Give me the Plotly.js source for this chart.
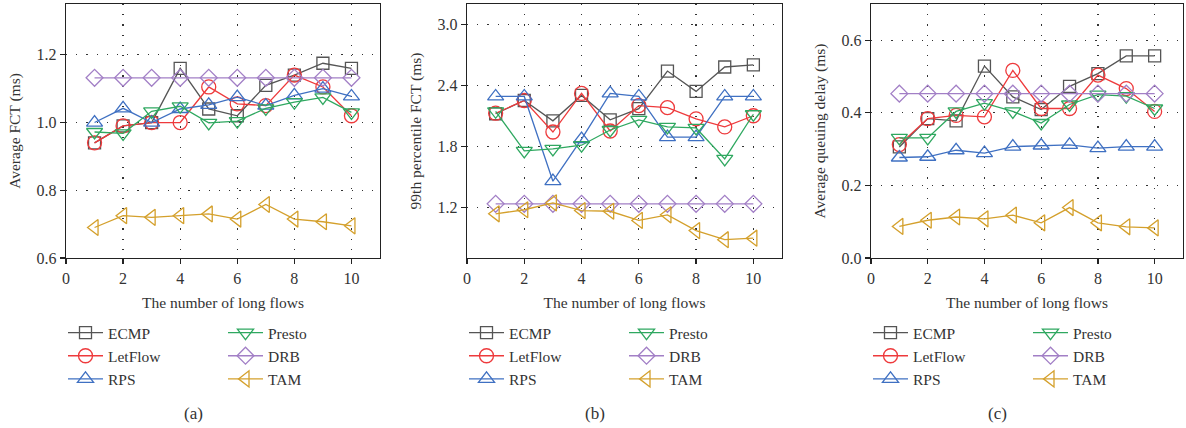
<!DOCTYPE html>
<html>
<head>
<meta charset="utf-8">
<script src="https://cdn.plot.ly/plotly-3.0.1.min.js"></script>
<style>html,body{margin:0;padding:0;background:#fff;}#chart{width:1186px;height:428px;}</style>
</head>
<body>
<div id="chart"></div>
<script>
// ---- data ----
const flows = [1, 2, 3, 4, 5, 6, 7, 8, 9, 10];
const seriesNames = ["ECMP", "LetFlow", "RPS", "Presto", "DRB", "TAM"];

// (a) Average FCT (ms)
const fctECMP    = [0.94, 0.99, 1.00, 1.16, 1.04, 1.02, 1.11, 1.14, 1.175, 1.16];
const fctLetFlow = [0.94, 0.99, 1.00, 1.00, 1.105, 1.055, 1.05, 1.14, 1.105, 1.02];
const fctRPS     = [1.00, 1.042, 1.00, 1.04, 1.052, 1.075, 1.05, 1.08, 1.10, 1.077];
const fctPresto  = [0.972, 0.968, 1.033, 1.048, 0.999, 1.004, 1.042, 1.06, 1.074, 1.03];
const fctDRB     = [1.132, 1.132, 1.132, 1.132, 1.132, 1.132, 1.132, 1.132, 1.132, 1.132];
const fctTAM     = [0.69, 0.725, 0.72, 0.725, 0.73, 0.715, 0.758, 0.715, 0.707, 0.695];

// (b) 99th percentile FCT (ms)
const p99ECMP    = [2.12, 2.25, 2.05, 2.30, 2.06, 2.17, 2.54, 2.34, 2.58, 2.60];
const p99LetFlow = [2.125, 2.25, 1.94, 2.32, 1.95, 2.20, 2.18, 2.07, 1.99, 2.10];
const p99RPS     = [2.29, 2.29, 1.456, 1.87, 2.32, 2.29, 1.89, 1.89, 2.29, 2.29];
const p99Presto  = [2.144, 1.754, 1.774, 1.81, 1.96, 2.06, 1.99, 1.98, 1.675, 2.115];
const p99DRB     = [1.233, 1.233, 1.233, 1.233, 1.233, 1.233, 1.233, 1.233, 1.233, 1.233];
const p99TAM     = [1.135, 1.175, 1.243, 1.167, 1.16, 1.07, 1.125, 0.97, 0.88, 0.895];

// (c) Average queuing delay (ms)
const qdECMP    = [0.306, 0.384, 0.378, 0.529, 0.444, 0.409, 0.473, 0.508, 0.557, 0.557];
const qdLetFlow = [0.3125, 0.384, 0.393, 0.389, 0.517, 0.412, 0.412, 0.504, 0.467, 0.404];
const qdRPS     = [0.277, 0.279, 0.297, 0.289, 0.307, 0.31, 0.312, 0.303, 0.307, 0.307];
const qdPresto  = [0.331, 0.331, 0.404, 0.427, 0.404, 0.372, 0.423, 0.45, 0.446, 0.412];
const qdDRB     = [0.453, 0.453, 0.453, 0.453, 0.453, 0.453, 0.453, 0.453, 0.453, 0.453];
const qdTAM     = [0.087, 0.104, 0.113, 0.108, 0.118, 0.097, 0.139, 0.097, 0.086, 0.083];

const panelLabels = ["(a)", "(b)", "(c)"];
const yTitles = ["Average FCT (ms)", "99th percentile FCT (ms)", "Average queuing delay (ms)"];
const xTitle = "The number of long flows";

// ---- styles ----
const colors = {ECMP: "#555555", LetFlow: "#ee3a3c", RPS: "#3f70c2", Presto: "#2fa860", DRB: "#a27fc6", TAM: "#d4a02c"};
const symbols = {ECMP: "square-open", LetFlow: "circle-open", RPS: "triangle-up-open", Presto: "triangle-down-open", DRB: "diamond-open", TAM: "triangle-left-open"};
const sizes = {ECMP: 12, LetFlow: 14, RPS: 14, Presto: 14, DRB: 13, TAM: 14};

const W = 1186, H = 428, TOP = 4, BOT = 258;
const px = v => v / W;
const py = v => (BOT - v) / (BOT - TOP);
const FONT = "Liberation Serif, Times New Roman, serif";

const panels = [
  {data: [fctECMP, fctLetFlow, fctRPS, fctPresto, fctDRB, fctTAM], left: 66, right: 380,
   yrange: [0.6, 1.35], tick0: 0.6, dtick: 0.2, fmt: ".1f"},
  {data: [p99ECMP, p99LetFlow, p99RPS, p99Presto, p99DRB, p99TAM], left: 467, right: 782,
   yrange: [0.7, 3.2], tick0: 1.2, dtick: 0.6, fmt: ".1f"},
  {data: [qdECMP, qdLetFlow, qdRPS, qdPresto, qdDRB, qdTAM], left: 871, right: 1183,
   yrange: [0, 0.7], tick0: 0, dtick: 0.2, fmt: ".1f"}
];

const traces = [];
const layout = {
  width: W, height: H,
  margin: {l: 0, r: 0, t: TOP, b: H - BOT},
  paper_bgcolor: "#fff", plot_bgcolor: "#fff",
  font: {family: FONT, size: 15.5, color: "#333"},
  showlegend: true,
  annotations: []
};

panels.forEach((p, i) => {
  const ax = i === 0 ? "" : String(i + 1);
  const xa = "x" + ax, ya = "y" + ax;
  const l1 = "legend" + (i === 0 ? "" : String(i * 2 + 1));
  const l2 = "legend" + String(i * 2 + 2);
  seriesNames.forEach((name, k) => {
    traces.push({
      x: flows, y: p.data[k], name: name, type: "scatter", mode: "lines+markers",
      xaxis: xa, yaxis: ya, legend: k < 3 ? l1 : l2,
      line: {color: colors[name], width: 1.3},
      marker: {symbol: symbols[name], size: sizes[name], color: colors[name], line: {width: 1.3, color: colors[name]}},
      cliponaxis: false
    });
  });
  const common = {
    showline: true, linecolor: "#222", linewidth: 1.3, mirror: true,
    ticks: "outside", ticklen: 5, tickcolor: "#222", tickwidth: 1.2,
    showgrid: true, gridcolor: "#333", gridwidth: 1.2, griddash: "1.2px,9px",
    zeroline: false, tickfont: {family: FONT, size: 16, color: "#333"}
  };
  layout["xaxis" + ax] = Object.assign({}, common, {
    domain: [px(p.left), px(p.right)], anchor: ya, range: [0, 11],
    tickmode: "linear", tick0: 0, dtick: 2,
    title: {text: xTitle, font: {family: FONT, size: 15.5, color: "#333"}, standoff: 11}
  });
  layout["yaxis" + ax] = Object.assign({}, common, {
    domain: [0, 1], anchor: xa, range: p.yrange,
    tickmode: "linear", tick0: p.tick0, dtick: p.dtick, tickformat: p.fmt,
    title: {text: yTitles[i], font: {family: FONT, size: 15.5, color: "#333"}, standoff: 12}
  });
  const legStyle = {
    orientation: "v", xanchor: "left", yanchor: "top", yref: "paper", xref: "paper",
    font: {family: FONT, size: 15.5, color: "#333"}, bgcolor: "rgba(0,0,0,0)",
    itemwidth: 35, tracegroupgap: 0, itemclick: false, itemdoubleclick: false
  };
  layout[l1] = Object.assign({}, legStyle, {x: px(p.left - 3), y: py(316)});
  layout[l2] = Object.assign({}, legStyle, {x: px(p.left + 157), y: py(316)});
  layout.annotations.push({
    text: panelLabels[i], xref: "paper", yref: "paper",
    x: px((p.left + p.right) / 2 - 30), y: py(413), xanchor: "center", yanchor: "middle",
    showarrow: false, font: {family: FONT, size: 17, color: "#333"}
  });
});

Plotly.newPlot("chart", traces, layout, {displayModeBar: false, staticPlot: true});
</script>
</body>
</html>
